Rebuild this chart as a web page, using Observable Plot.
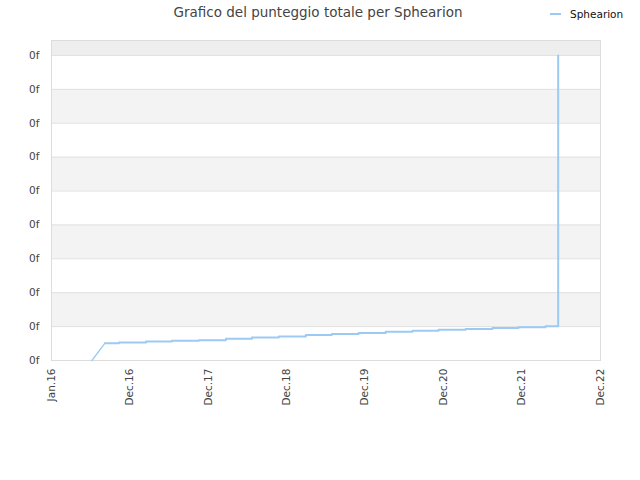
<!DOCTYPE html>
<html>
<head>
<meta charset="utf-8">
<script src="https://cdn.jsdelivr.net/npm/d3@7"></script>
<script src="https://cdn.jsdelivr.net/npm/@observablehq/plot@0.6"></script>
<style>
  body { margin: 0; background: #fff; font-family: "DejaVu Sans", sans-serif; }
  #wrap { position: relative; width: 640px; height: 480px; }
  #title { position: absolute; left: 0; width: 636px; top: 4px; text-align: center; font-size: 13.5px; color: #444; }
  #legend { position: absolute; left: 550px; top: 8px; font-size: 10.5px; color: #111; display: flex; align-items: center; }
  #legend .sw { display: inline-block; width: 11px; height: 2px; margin-right: 9px; }
  #chart { position: absolute; left: 0; top: 0; }
</style>
</head>
<body>
<div id="wrap">
  <div id="chart"></div>
  <div id="title">Grafico del punteggio totale per Sphearion</div>
  <div id="legend"><span class="sw"></span><span id="legname"></span></div>
</div>
<script>
// ---- data ----
const seriesName = "Sphearion";
const seriesColor = "#9ccaf4";
const dates = [
  "2016-07-07", "2016-09-06", "2016-11-10", "2017-03-16", "2017-07-14", "2017-11-17",
  "2018-03-23", "2018-07-22", "2018-11-24", "2019-03-30", "2019-07-29", "2019-12-01",
  "2020-04-05", "2020-08-08", "2020-12-07", "2021-04-12", "2021-08-15", "2021-12-14",
  "2022-04-19", "2022-06-17", "2022-06-17", "2022-06-17", "2022-06-17"
];
const scores = [
  0, 0.51, 0.53, 0.56, 0.58, 0.60,
  0.64, 0.68, 0.71, 0.75, 0.78, 0.81,
  0.85, 0.88, 0.91, 0.93, 0.96, 0.98,
  1.01, 1.01, 2.5, 5.5, 9.0
];
const yTicks = [0, 1, 2, 3, 4, 5, 6, 7, 8, 9];
const yTickLabel = "0f";
const yAxisMax = 9.44;
const xTickDates = ["2016-01-01", "2016-12-31", "2017-12-31", "2018-12-31", "2019-12-31", "2020-12-31", "2021-12-31", "2022-12-31"];
const xTickLabels = ["Jan.16", "Dec.16", "Dec.17", "Dec.18", "Dec.19", "Dec.20", "Dec.21", "Dec.22"];

// ---- build ----
const data = dates.map((d, i) => ({date: new Date(d + "T00:00:00Z"), value: scores[i]}));
const xTicks = xTickDates.map(d => new Date(d + "T00:00:00Z"));
const labelMap = new Map(xTicks.map((d, i) => [+d, xTickLabels[i]]));
const xDomain = [xTicks[0], xTicks[xTicks.length - 1]];

const bands = [];
for (let i = 0; i < yTicks.length - 1; i++) {
  bands.push({y1: yTicks[i], y2: yTicks[i + 1], fill: i % 2 ? "#f3f3f3" : "#ffffff"});
}
bands.push({y1: yTicks[yTicks.length - 1], y2: yAxisMax, fill: "#eeeeee"});

const chart = Plot.plot({
  width: 640,
  height: 480,
  marginLeft: 51,
  marginRight: 40,
  marginTop: 40,
  marginBottom: 120,
  style: {fontFamily: "DejaVu Sans", background: "transparent", color: "#444"},
  x: {type: "utc", domain: xDomain},
  y: {domain: [0, yAxisMax]},
  marks: [
    Plot.rect(bands, {x1: () => xDomain[0], x2: () => xDomain[1], y1: "y1", y2: "y2", fill: "fill"}),
    Plot.ruleY(yTicks, {stroke: "#e0e0e0", strokeWidth: 1}),
    Plot.frame({stroke: "#dcdcdc"}),
    Plot.axisY(yTicks, {tickFormat: () => yTickLabel, tickSize: 0, tickPadding: 12, fontSize: 10.5, fill: "#444"}),
    Plot.axisX(xTicks, {tickFormat: d => labelMap.get(+d), tickRotate: -90, tickSize: 0, tickPadding: 8, fontSize: 10.5, fill: "#444"}),
    Plot.line(data.slice(0, 2), {x: "date", y: "value", stroke: seriesColor, strokeWidth: 1.3}),
    Plot.line(data.slice(1), {x: "date", y: "value", stroke: seriesColor, strokeWidth: 2, curve: "step-after"})
  ]
});
document.getElementById("chart").appendChild(chart);
document.getElementById("legname").textContent = seriesName;
document.querySelector("#legend .sw").style.background = seriesColor;
</script>
</body>
</html>
